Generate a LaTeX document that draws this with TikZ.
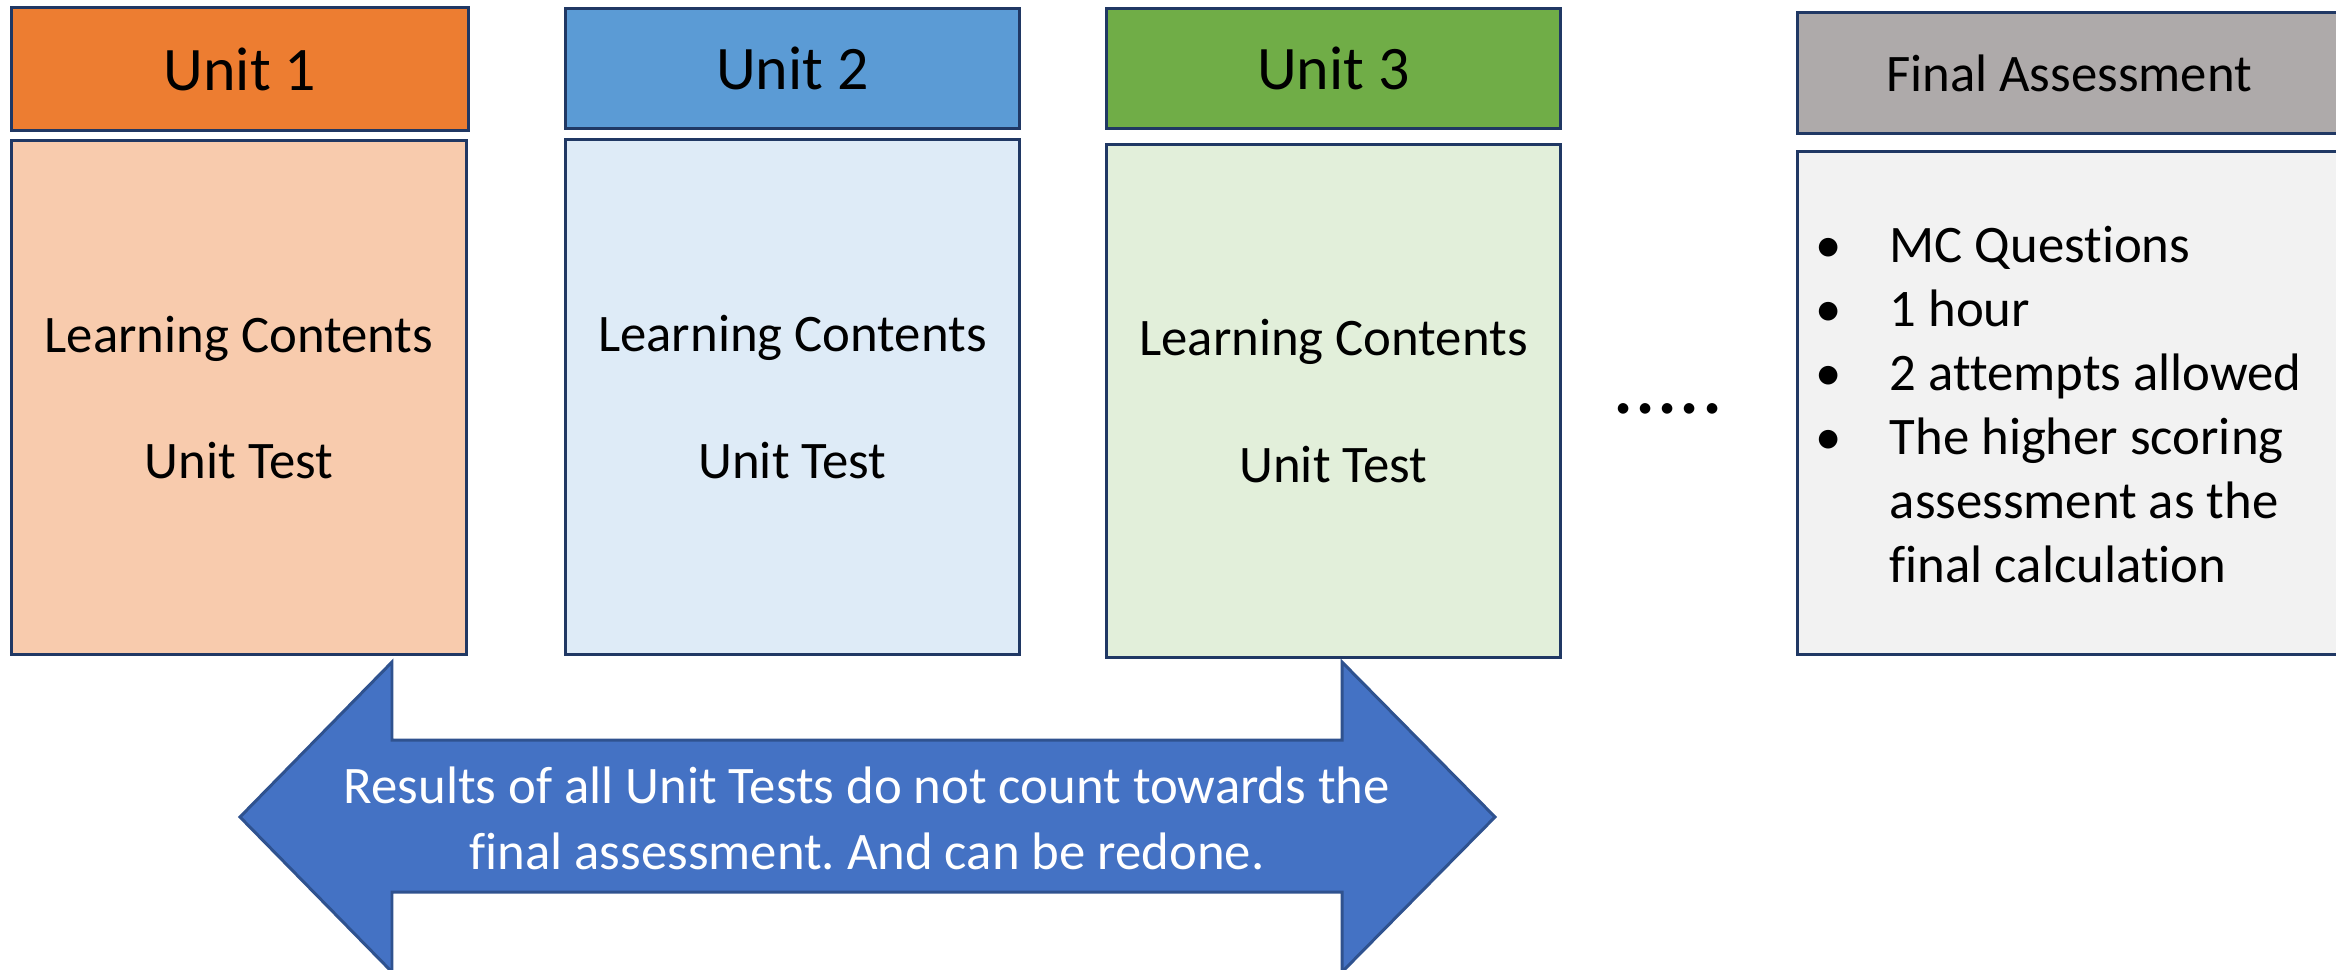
\documentclass[tikz,border=0pt]{standalone}
\usepackage{fontspec}
\setmainfont{Carlito}[Ligatures=NoCommon]
\frenchspacing
\definecolor{edge}{HTML}{203864}
\definecolor{orangeH}{HTML}{ED7D31}
\definecolor{orangeB}{HTML}{F8CBAD}
\definecolor{blueH}{HTML}{5B9BD5}
\definecolor{blueB}{HTML}{DEEBF7}
\definecolor{greenH}{HTML}{70AD47}
\definecolor{greenB}{HTML}{E2EFDA}
\definecolor{grayH}{HTML}{AEAAAA}
\definecolor{grayB}{HTML}{F2F2F2}
\definecolor{arrowF}{HTML}{4472C4}
\definecolor{arrowE}{HTML}{2F528F}
\begin{document}
\begin{tikzpicture}[x=0.01cm,y=-0.01cm,
  box/.style={draw=edge, line width=0.85pt, inner sep=0pt, outer sep=0pt, align=center},
  hdr/.style={box, font=\fontsize{17.6}{21}\selectfont},
  bodytxt/.style={box, font=\fontsize{15}{18}\selectfont},
  bigarrow/.style={fill=arrowF, draw=arrowE, line width=0.85pt, line join=miter}]
\useasboundingbox (0,0) rectangle (2336,969);
% Unit 1
\node[hdr, fill=orangeH, minimum width=4.56cm, minimum height=1.22cm] (h1) at (240,69) {Unit 1};
\node[bodytxt, fill=orangeB, minimum width=4.54cm, minimum height=5.13cm] (b1) at (239,397.5) {Learning Contents\\[18pt]Unit Test};
% Unit 2
\node[hdr, fill=blueH, minimum width=4.53cm, minimum height=1.19cm] (h2) at (792.5,68.5) {Unit 2};
\node[bodytxt, fill=blueB, minimum width=4.53cm, minimum height=5.14cm] (b2) at (792.5,397) {Learning Contents\\[18pt]Unit Test};
% Unit 3
\node[hdr, fill=greenH, minimum width=4.53cm, minimum height=1.19cm] (h3) at (1333.5,68.5) {Unit 3};
\node[bodytxt, fill=greenB, minimum width=4.53cm, minimum height=5.12cm] (b3) at (1333.5,401) {Learning Contents\\[18pt]Unit Test};
% dots
\node[font=\fontsize{25}{30}\selectfont, anchor=base, inner sep=0pt] (dots) at (1668,413) {.....};
% Final assessment
\node[box, fill=grayH, minimum width=5.47cm, minimum height=1.20cm] (hf) at (2071.5,73) {};
\node[inner sep=0pt, font=\fontsize{15}{18}\selectfont] (hft) at (2069,73) {Final Assessment};
\node[box, fill=grayB, minimum width=5.47cm, minimum height=5.02cm] (bf) at (2071.5,403) {};
\node[anchor=west, inner sep=0pt, align=left, font=\fontsize{15}{18.2}\selectfont] (list) at (1812,405) {%
\makebox[0.77cm][l]{\hspace{0.03cm}•}MC Questions\\
\makebox[0.77cm][l]{\hspace{0.03cm}•}1 hour\\
\makebox[0.77cm][l]{\hspace{0.03cm}•}2 attempts allowed\\
\makebox[0.77cm][l]{\hspace{0.03cm}•}The higher scoring\\
\makebox[0.77cm][l]{}assessment as the\\
\makebox[0.77cm][l]{}final calculation};
% double arrow
\draw[bigarrow] (240,817) -- (392,662) -- (392,740) -- (1342,740) -- (1342,662) -- (1495,817)
  -- (1342,972) -- (1342,892) -- (392,892) -- (392,972) -- cycle;
\node[text=white, align=center, inner sep=0pt, font=\fontsize{15}{18.8}\selectfont] (note) at (867,818)
  {Results of all Unit Tests do not count towards the\\final assessment. And can be redone.};
\end{tikzpicture}
\end{document}
